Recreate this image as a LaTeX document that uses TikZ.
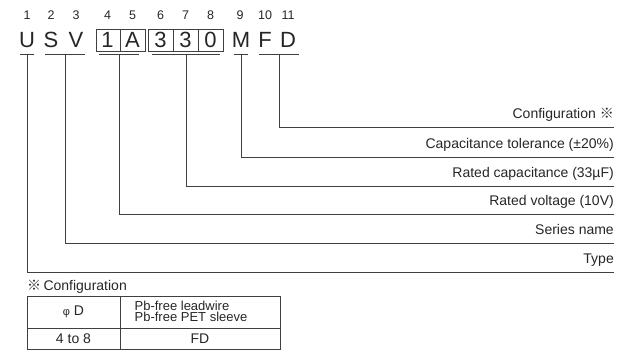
\documentclass[tikz,border=0pt]{standalone}
\usepackage{fontspec}
\setmainfont{Liberation Sans}
\newfontfamily\cjkfont{Noto Sans CJK JP}
\begin{document}
\begin{tikzpicture}[x=1pt,y=-1pt,
  num/.style={font=\fontsize{12.5}{14}\selectfont, text=black!85, inner sep=0, anchor=base},
  big/.style={font=\fontsize{22}{24}\selectfont, text=black!85, inner sep=0, anchor=base},
  lab/.style={font=\fontsize{14}{16}\selectfont, text=black!85, anchor=base east, inner sep=0},
  tab/.style={font=\fontsize{14}{15}\selectfont, text=black!85, inner sep=0},
  ln/.style={draw=black!75, line width=0.9pt},
  bx/.style={draw=black!75, line width=0.9pt}]
\useasboundingbox (0,0) rectangle (627,351);
% position numbers
\foreach \i/\x in {1/27,2/51,3/76,4/107.5,5/132.5,6/160.5,7/185.5,8/210.5,9/240,10/265,11/288}
  \node[num] (n\i) at (\x,19) {\i};
% code letters
\node[big] (c1) at (27,47) {U};
\node[big] (c2) at (51,47) {S};
\node[big] (c3) at (76,47) {V};
\node[big] (c4) at (107.5,47) {1};
\node[big] (c5) at (132.5,47) {A};
\node[big] (c6) at (160.5,47) {3};
\node[big] (c7) at (185.5,47) {3};
\node[big] (c8) at (210.5,47) {0};
\node[big] (c9) at (241,47) {M};
\node[big] (c10) at (265,47) {F};
\node[big] (c11) at (288,47) {D};
% boxes
\draw[bx] (96,29) rectangle (145,51);
\draw[bx] (120,29) -- (120,51);
\draw[bx] (148,29) rectangle (223,51);
\draw[bx] (173,29) -- (173,51);
\draw[bx] (198,29) -- (198,51);
% underline bars
\draw[ln] (20,54) -- coordinate (bU) (34,54);
\draw[ln] (45,54) -- coordinate (bSV) (85,54);
\draw[ln] (99,54) -- coordinate (bA) (139,54);
\draw[ln] (152,54) -- coordinate (bN) (220,54);
\draw[ln] (234,54) -- coordinate (bM) (248,54);
\draw[ln] (259,54) -- coordinate (bFD) (299,54);
% labels
\node[lab] (t1) at (614,118.5) {Configuration {\cjkfont ※}};
\node[lab] (t2) at (614,148.5) {Capacitance tolerance (±20\%)};
\node[lab] (t3) at (614,177.5) {Rated capacitance (33µF)};
\node[lab] (t4) at (614,205.5) {Rated voltage (10V)};
\node[lab] (t5) at (614,234.5) {Series name};
\node[lab] (t6) at (614,263.5) {Type};
% connectors
\draw[ln] (bFD) |- (614,127);
\draw[ln] (bM) |- (614,157);
\draw[ln] (bN) |- (614,186);
\draw[ln] (bA) |- (614,214);
\draw[ln] (bSV) |- (614,243);
\draw[ln] (bU) |- (614,272);
% configuration table
\node[tab, anchor=base west] (ct) at (27,290) {{\cjkfont ※}\,Configuration};
\draw[bx] (27,296) rectangle (280,349.5);
\draw[bx] (27,328) -- (280,328);
\draw[bx] (120,296) -- (120,349.5);
\node[tab] (h1) at (73.5,312) {{\fontsize{11}{12}\selectfont φ}\ D};
\node[tab, align=left, font=\fontsize{13}{11.5}\selectfont] (h2) at (191,311.5) {Pb-free leadwire\\Pb-free PET sleeve};
\node[tab] (r1) at (73.5,339) {4 to 8};
\node[tab] (r2) at (200,339) {FD};
\end{tikzpicture}
\end{document}
